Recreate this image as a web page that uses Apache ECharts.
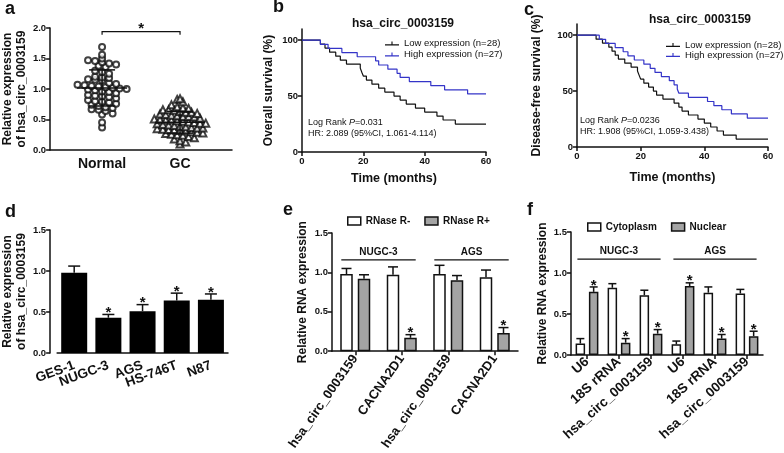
<!DOCTYPE html>
<html>
<head>
<meta charset="utf-8">
<script src="https://cdn.jsdelivr.net/npm/echarts@6/dist/echarts.min.js"></script>
<style>
  html, body { margin: 0; padding: 0; background: #fff; }
  #fig { width: 784px; height: 453px; }
</style>
</head>
<body>
<div id="fig"></div>
<script>
// ---- panel a : scatter ----
const groupsA = ['Normal', 'GC'];
const groupCenters = [1, 2.5];
const normalVals = [1.69, 1.56, 1.50, 1.47, 1.46, 1.44, 1.42, 1.40, 1.38, 1.36, 1.30, 1.28, 1.25, 1.20, 1.19,
  1.18, 1.16, 1.15, 1.14, 1.10, 1.08, 1.07, 1.06, 1.05, 1.04, 1.03, 1.02, 1.01, 1.00, 0.99, 0.98, 0.96,
  0.95, 0.93, 0.90, 0.89, 0.88, 0.87, 0.85, 0.82, 0.80, 0.79, 0.78, 0.76, 0.74, 0.72, 0.70, 0.69, 0.67,
  0.66, 0.64, 0.60, 0.58, 0.45, 0.37];
const gcVals = [0.84, 0.83, 0.79, 0.74, 0.71, 0.69, 0.68, 0.66, 0.66, 0.65, 0.63, 0.62, 0.62, 0.60, 0.59,
  0.58, 0.57, 0.56, 0.55, 0.55, 0.54, 0.52, 0.51, 0.50, 0.49, 0.49, 0.48, 0.47, 0.46, 0.45, 0.44, 0.44,
  0.43, 0.42, 0.41, 0.40, 0.39, 0.38, 0.37, 0.36, 0.36, 0.35, 0.34, 0.33, 0.33, 0.32, 0.31, 0.30, 0.29,
  0.28, 0.27, 0.26, 0.25, 0.24, 0.22, 0.20, 0.18, 0.15, 0.13, 0.10];

// ---- panels b / c : Kaplan-Meier ----
const survNames = ['Low expression (n=28)', 'High expression (n=27)'];
const survTicks = [0, 50, 100];
const osLow = [[0,100],[6,96.4],[7.5,92.9],[9,89.3],[11,85.7],[12.5,82.1],[14.5,78.6],[19,75],[19.5,71.4],
  [20,67.9],[21,64.3],[22.8,60.7],[25,57.1],[27,53.6],[30,50],[32,46.4],[34,42.9],[37,39.3],[40,35.7],
  [44,32.1],[46,28.6],[50,25],[60,25]];
const osHigh = [[0,100],[6,96.3],[8.5,92.6],[13,88.9],[18,85.2],[24,81.5],[25,77.8],[28,74.1],[31,70.4],
  [32,66.7],[35,63],[42,59.3],[46.5,55.6],[54,51.9],[60,51.9]];
const dfsLow = [[0,100],[6,96.4],[8,92.9],[10,89.3],[11,85.7],[12,82.1],[13,78.6],[15,75],[17,71.4],
  [19,67.9],[19.5,64.3],[20,60.7],[21,57.1],[22.5,53.6],[24,50],[25,46.4],[27,42.9],[30.5,39.3],[32,35.7],
  [33,32.1],[35,28.6],[38,25],[40,21.4],[42,17.9],[44,14.3],[46,10.7],[50,7.1],[60,7.1]];
const dfsHigh = [[0,100],[7,96.3],[9,92.6],[12,88.9],[14.5,85.2],[16,81.5],[18,77.8],[21,74.1],[23,70.4],
  [24.5,66.7],[26.5,63],[29,59.3],[30.5,55.6],[31.5,51.9],[32,48.1],[35,44.4],[41,40.7],[43,37],
  [45.5,33.3],[48.5,29.6],[53.5,25.9],[60,25.9]];

// ---- panel d : cell lines ----
const cellLines = ['GES-1', 'NUGC-3', 'AGS', 'HS-746T', 'N87'];
const cellMean = [0.98, 0.43, 0.51, 0.64, 0.65];
const cellSd = [0.08, 0.04, 0.08, 0.09, 0.07];
const cellStar = [0, 1, 1, 1, 1];

// ---- panel e : RNase R ----
const rnaseCats = ['hsa_circ_0003159', 'CACNA2D1', 'hsa_circ_0003159', 'CACNA2D1'];
const rnaseNames = ['RNase R-', 'RNase R+'];
const rnaseMinus = [0.98, 0.97, 0.98, 0.94];
const rnaseMinusSd = [0.07, 0.10, 0.11, 0.09];
const rnasePlus = [0.92, 0.17, 0.90, 0.23];
const rnasePlusSd = [0.05, 0.04, 0.06, 0.07];
const rnasePlusStar = [0, 1, 0, 1];

// ---- panel f : fractionation ----
const fracCats = ['U6', '18S rRNA', 'hsa_circ_0003159', 'U6', '18S rRNA', 'hsa_circ_0003159'];
const fracNames = ['Cytoplasm', 'Nuclear'];
const cyto = [0.14, 0.82, 0.73, 0.13, 0.76, 0.75];
const cytoSd = [0.06, 0.05, 0.06, 0.04, 0.07, 0.05];
const nuc = [0.77, 0.15, 0.26, 0.84, 0.20, 0.23];
const nucSd = [0.06, 0.05, 0.05, 0.04, 0.05, 0.06];
const nucStar = [1, 1, 1, 1, 1, 1];

const cellGroups = ['NUGC-3', 'AGS'];

const FONT = 'Liberation Sans, Arial, sans-serif';
const INK = '#111';
const BLUE = '#3434c8';
const GREY = '#a4a4a4';

const chart = echarts.init(document.getElementById('fig'), null, { renderer: 'canvas' });

// beeswarm-like spreading of points sharing a row (deterministic)
function swarm(vals, center, bin, step) {
  const rows = {};
  vals.forEach(v => {
    const k = Math.round(v / bin);
    (rows[k] = rows[k] || []).push(v);
  });
  const out = [];
  Object.keys(rows).forEach(k => {
    const r = rows[k];
    r.forEach((v, j) => out.push([center + (j - (r.length - 1) / 2) * step, v]));
  });
  return out;
}

function meanSd(vals) {
  const m = vals.reduce((s, v) => s + v, 0) / vals.length;
  const sd = Math.sqrt(vals.reduce((s, v) => s + (v - m) * (v - m), 0) / (vals.length - 1));
  return [m, sd];
}

const lineStyle = { stroke: INK, lineWidth: 1.5 };

function valueAxis(grid, extra) {
  return Object.assign({
    type: 'value', gridIndex: grid,
    axisLine: { show: true, lineStyle: { color: INK, width: 1.5 } },
    axisTick: { show: true, length: 4, lineStyle: { color: INK, width: 1.5 } },
    axisLabel: { fontFamily: FONT, fontWeight: 'bold', fontSize: 9.5, color: INK, margin: 4 },
    splitLine: { show: false },
    nameLocation: 'middle',
    nameTextStyle: { fontFamily: FONT, fontWeight: 'bold', fontSize: 12, color: INK, lineHeight: 14 }
  }, extra);
}

function catAxis(grid, data, extra) {
  return Object.assign({
    type: 'category', gridIndex: grid, data: data,
    axisLine: { show: true, lineStyle: { color: INK, width: 1.5 } },
    axisTick: { show: true, alignWithLabel: true, length: 4, lineStyle: { color: INK, width: 1.5 } },
    axisLabel: { fontFamily: FONT, fontWeight: 'bold', fontSize: 12.5, color: INK, interval: 0 }
  }, extra);
}

// one-sided error bars (+SD) with optional star
function errorBarSeries(grid, means, sds, stars, offset, cap) {
  return {
    type: 'custom', xAxisIndex: grid, yAxisIndex: grid, z: 5,
    data: means.map((m, i) => [i, m, sds[i], stars ? stars[i] : 0]),
    renderItem: function (params, api) {
      const base = api.coord([api.value(0), api.value(1)]);
      const top = api.coord([api.value(0), api.value(1) + api.value(2)]);
      const cx = base[0] + offset;
      const children = [
        { type: 'line', shape: { x1: cx, y1: base[1], x2: cx, y2: top[1] }, style: lineStyle },
        { type: 'line', shape: { x1: cx - cap, y1: top[1], x2: cx + cap, y2: top[1] }, style: lineStyle }
      ];
      if (api.value(3)) {
        children.push({ type: 'text', x: cx, y: top[1] + 6,
          style: { text: '*', font: 'bold 15px ' + FONT, fill: INK, align: 'center', verticalAlign: 'bottom' } });
      }
      return { type: 'group', children: children };
    }
  };
}

function groupLen(grid) { return grid === 4 ? rnaseCats.length / 2 : fracCats.length / 2; }

// horizontal group line with label (NUGC-3 / AGS)
function groupLineSeries(grid, yVal, spread) {
  const n = groupLen(grid);
  return {
    type: 'custom', xAxisIndex: grid, yAxisIndex: grid,
    data: cellGroups.map((g, i) => [i * n, i * n + n - 1, yVal]),
    renderItem: function (params, api) {
      const band = api.size([1, 0])[0];
      const a = api.coord([api.value(0), api.value(2)]);
      const b = api.coord([api.value(1), api.value(2)]);
      const x1 = a[0] - band * spread, x2 = b[0] + band * spread;
      return { type: 'group', children: [
        { type: 'line', shape: { x1: x1, y1: a[1], x2: x2, y2: a[1] }, style: { stroke: INK, lineWidth: 1.2 } },
        { type: 'text', x: (x1 + x2) / 2, y: a[1] - 3,
          style: { text: cellGroups[params.dataIndex], font: 'bold 10px ' + FONT, fill: INK, align: 'center', verticalAlign: 'bottom' } }
      ] };
    }
  };
}

const statsA = [meanSd(normalVals), meanSd(gcVals)];

const kmLegendIcon = 'path://M0,6 L20,6 L20,7.6 L0,7.6 Z M9.2,2 L10.8,2 L10.8,6.5 L9.2,6.5 Z';
const kmText = { fontFamily: FONT, fontSize: 9.5, color: INK, lineHeight: 11 };
const survY = (grid, name, gap) => valueAxis(grid, {
  min: 0, max: 110, interval: 10, name: name, nameGap: gap,
  axisTick: { show: true, length: 4, customValues: survTicks, lineStyle: { color: INK, width: 1.5 } },
  axisLabel: { fontFamily: FONT, fontWeight: 'bold', fontSize: 9.5, color: INK, margin: 4, customValues: survTicks }
});

const option = {
  animation: false,
  backgroundColor: '#fff',
  textStyle: { fontFamily: FONT },
  grid: [
    { left: 50, top: 28, width: 182, height: 122 },   // a
    { left: 302, top: 29, width: 184, height: 123 },  // b
    { left: 577, top: 24, width: 191, height: 123 },  // c
    { left: 56, top: 230, width: 172, height: 123 },  // d
    { left: 332, top: 233, width: 186, height: 123 }, // e
    { left: 571, top: 232, width: 192, height: 123 }  // f
  ],
  xAxis: [
    valueAxis(0, { min: 0, max: 3.5, interval: 0.5, axisTick: { show: false },
      axisLabel: { fontFamily: FONT, fontWeight: 'bold', fontSize: 14, color: INK, margin: 7,
        formatter: v => { const i = groupCenters.indexOf(v); return i >= 0 ? groupsA[i] : ''; } } }),
    valueAxis(1, { min: 0, max: 60, interval: 20, name: 'Time (months)', nameGap: 20,
      nameTextStyle: { fontFamily: FONT, fontWeight: 'bold', fontSize: 12.5, color: INK } }),
    valueAxis(2, { min: 0, max: 60, interval: 20, name: 'Time (months)', nameGap: 24,
      nameTextStyle: { fontFamily: FONT, fontWeight: 'bold', fontSize: 12.5, color: INK } }),
    catAxis(3, cellLines, { axisTick: { show: false },
      axisLabel: { fontFamily: FONT, fontWeight: 'bold', fontSize: 13.5, color: INK, interval: 0, rotate: 20, margin: 12 } }),
    catAxis(4, rnaseCats, { axisLabel: { fontFamily: FONT, fontWeight: 'bold', fontSize: 13, color: INK, interval: 0, rotate: 55, margin: 5 } }),
    catAxis(5, fracCats, { axisLabel: { fontFamily: FONT, fontWeight: 'bold', fontSize: 13.5, color: INK, interval: 0, rotate: 42, margin: 5 } })
  ],
  yAxis: [
    valueAxis(0, { min: 0, max: 2, interval: 0.5, name: 'Relative expression\nof hsa_circ_0003159', nameGap: 20,
      axisLabel: { fontFamily: FONT, fontWeight: 'bold', fontSize: 9.5, color: INK, margin: 4, formatter: v => v.toFixed(1) } }),
    survY(1, 'Overall survival (%)', 26),
    survY(2, 'Disease-free survival (%)', 33),
    valueAxis(3, { min: 0, max: 1.5, interval: 0.5, offset: 7, name: 'Relative expression\nof hsa_circ_0003159', nameGap: 17,
      axisLabel: { fontFamily: FONT, fontWeight: 'bold', fontSize: 9.5, color: INK, margin: 4, formatter: v => v.toFixed(1) } }),
    valueAxis(4, { min: 0, max: 1.5, interval: 0.5, name: 'Relative RNA expression', nameGap: 22,
      axisLabel: { fontFamily: FONT, fontWeight: 'bold', fontSize: 9.5, color: INK, margin: 4, formatter: v => v.toFixed(1) } }),
    valueAxis(5, { min: 0, max: 1.5, interval: 0.5, name: 'Relative RNA expression', nameGap: 16,
      axisLabel: { fontFamily: FONT, fontWeight: 'bold', fontSize: 9.5, color: INK, margin: 4, formatter: v => v.toFixed(1) } })
  ],
  legend: [
    { data: survNames, left: 380, top: 33, orient: 'vertical', itemGap: 0, itemWidth: 14, itemHeight: 6,
      icon: kmLegendIcon, textStyle: kmText },
    { data: survNames, left: 661, top: 35, orient: 'vertical', itemGap: 0, itemWidth: 14, itemHeight: 6,
      icon: kmLegendIcon, textStyle: Object.assign({}, kmText, { lineHeight: 10 }) },
    { data: rnaseNames, left: 342, top: 211, itemGap: 14, itemWidth: 13, itemHeight: 8, icon: 'rect',
      itemStyle: { borderColor: INK, borderWidth: 1.5 },
      textStyle: { fontFamily: FONT, fontWeight: 'bold', fontSize: 10, color: INK } },
    { data: fracNames, left: 582, top: 217, itemGap: 14, itemWidth: 13, itemHeight: 8, icon: 'rect',
      itemStyle: { borderColor: INK, borderWidth: 1.5 },
      textStyle: { fontFamily: FONT, fontWeight: 'bold', fontSize: 10, color: INK } }
  ],
  graphic: [
    { type: 'text', left: 5, top: 0, style: { text: 'a', font: 'bold 18px ' + FONT, fill: INK } },
    { type: 'text', left: 273, top: -2, style: { text: 'b', font: 'bold 18px ' + FONT, fill: INK } },
    { type: 'text', left: 524, top: 1, style: { text: 'c', font: 'bold 18px ' + FONT, fill: INK } },
    { type: 'text', left: 5, top: 203, style: { text: 'd', font: 'bold 18px ' + FONT, fill: INK } },
    { type: 'text', left: 283, top: 201, style: { text: 'e', font: 'bold 18px ' + FONT, fill: INK } },
    { type: 'text', left: 527, top: 201, style: { text: 'f', font: 'bold 18px ' + FONT, fill: INK } },
    { type: 'text', x: 403, y: 24, style: { text: 'hsa_circ_0003159', font: 'bold 12px ' + FONT, fill: INK, align: 'center', verticalAlign: 'middle' } },
    { type: 'text', x: 700, y: 20, style: { text: 'hsa_circ_0003159', font: 'bold 12px ' + FONT, fill: INK, align: 'center', verticalAlign: 'middle' } },
    { type: 'text', x: 308, y: 128, style: { text: '{n|Log Rank }{i|P}{n|=0.031}\n{n|HR: 2.089 (95%CI, 1.061-4.114)}',
      fill: INK, verticalAlign: 'middle', lineHeight: 11,
      rich: { n: { fontFamily: FONT, fontSize: 9, fill: INK, lineHeight: 11 }, i: { fontFamily: FONT, fontSize: 9, fontStyle: 'italic', fill: INK, lineHeight: 11 } } } },
    { type: 'text', x: 580, y: 126, style: { text: '{n|Log Rank }{i|P}{n|=0.0236}\n{n|HR: 1.908 (95%CI, 1.059-3.438)}',
      fill: INK, verticalAlign: 'middle', lineHeight: 11,
      rich: { n: { fontFamily: FONT, fontSize: 9, fill: INK, lineHeight: 11 }, i: { fontFamily: FONT, fontSize: 9, fontStyle: 'italic', fill: INK, lineHeight: 11 } } } }
  ],
  series: [
    // a
    { type: 'scatter', xAxisIndex: 0, yAxisIndex: 0, symbol: 'emptyCircle', symbolSize: 6,
      itemStyle: { color: INK, borderWidth: 1 }, data: swarm(normalVals, groupCenters[0], 0.08, 0.135) },
    { type: 'scatter', xAxisIndex: 0, yAxisIndex: 0, symbol: 'emptyTriangle', symbolSize: 7,
      itemStyle: { color: INK, borderWidth: 1 }, data: swarm(gcVals, groupCenters[1], 0.08, 0.11) },
    { type: 'custom', xAxisIndex: 0, yAxisIndex: 0, z: 5,
      data: statsA.map((s, i) => [groupCenters[i], s[0], s[1]]),
      renderItem: function (params, api) {
        const c = api.coord([api.value(0), api.value(1)]);
        const hi = api.coord([api.value(0), api.value(1) + api.value(2)]);
        const lo = api.coord([api.value(0), api.value(1) - api.value(2)]);
        return { type: 'group', children: [
          { type: 'line', shape: { x1: c[0] - 25, y1: c[1], x2: c[0] + 25, y2: c[1] }, style: lineStyle },
          { type: 'line', shape: { x1: c[0], y1: hi[1], x2: c[0], y2: lo[1] }, style: lineStyle },
          { type: 'line', shape: { x1: c[0] - 13, y1: hi[1], x2: c[0] + 13, y2: hi[1] }, style: lineStyle },
          { type: 'line', shape: { x1: c[0] - 13, y1: lo[1], x2: c[0] + 13, y2: lo[1] }, style: lineStyle }
        ] };
      } },
    { type: 'custom', xAxisIndex: 0, yAxisIndex: 0,
      data: [[groupCenters[0], groupCenters[1], 1.94]],
      renderItem: function (params, api) {
        const p1 = api.coord([api.value(0), api.value(2)]);
        const p2 = api.coord([api.value(1), api.value(2)]);
        return { type: 'group', children: [
          { type: 'polyline', shape: { points: [[p1[0], p1[1] + 3], p1, p2, [p2[0], p2[1] + 3]] },
            style: { stroke: INK, lineWidth: 1.2, fill: null } },
          { type: 'text', x: (p1[0] + p2[0]) / 2, y: p1[1] + 5,
            style: { text: '*', font: 'bold 15px ' + FONT, fill: INK, align: 'center', verticalAlign: 'bottom' } }
        ] };
      } },
    // b
    { name: survNames[0], type: 'line', step: 'end', xAxisIndex: 1, yAxisIndex: 1, symbol: 'none',
      color: INK, lineStyle: { color: INK, width: 1.2 }, data: osLow },
    { name: survNames[1], type: 'line', step: 'end', xAxisIndex: 1, yAxisIndex: 1, symbol: 'none',
      color: BLUE, lineStyle: { color: BLUE, width: 1.2 }, data: osHigh },
    // c
    { name: survNames[0], type: 'line', step: 'end', xAxisIndex: 2, yAxisIndex: 2, symbol: 'none',
      color: INK, lineStyle: { color: INK, width: 1.2 }, data: dfsLow },
    { name: survNames[1], type: 'line', step: 'end', xAxisIndex: 2, yAxisIndex: 2, symbol: 'none',
      color: BLUE, lineStyle: { color: BLUE, width: 1.2 }, data: dfsHigh },
    // d
    { type: 'bar', xAxisIndex: 3, yAxisIndex: 3, barWidth: 26, data: cellMean,
      itemStyle: { color: '#000' } },
    errorBarSeries(3, cellMean, cellSd, cellStar, 0, 6),
    // e
    { name: rnaseNames[0], type: 'bar', xAxisIndex: 4, yAxisIndex: 4, barWidth: 12.5, barGap: '40%', data: rnaseMinus,
      itemStyle: { color: '#fff', borderColor: INK, borderWidth: 1.5 } },
    { name: rnaseNames[1], type: 'bar', xAxisIndex: 4, yAxisIndex: 4, barWidth: 12.5, barGap: '40%', data: rnasePlus,
      itemStyle: { color: GREY, borderColor: INK, borderWidth: 1.5 } },
    errorBarSeries(4, rnaseMinus, rnaseMinusSd, null, -8.75, 5),
    errorBarSeries(4, rnasePlus, rnasePlusSd, rnasePlusStar, 8.75, 5),
    groupLineSeries(4, 1.16, 0.3),
    // f
    { name: fracNames[0], type: 'bar', xAxisIndex: 5, yAxisIndex: 5, barWidth: 9.5, barGap: '40%', data: cyto,
      itemStyle: { color: '#fff', borderColor: INK, borderWidth: 1.5 } },
    { name: fracNames[1], type: 'bar', xAxisIndex: 5, yAxisIndex: 5, barWidth: 9.5, barGap: '40%', data: nuc,
      itemStyle: { color: GREY, borderColor: INK, borderWidth: 1.5 } },
    errorBarSeries(5, cyto, cytoSd, null, -6.65, 4),
    errorBarSeries(5, nuc, nucSd, nucStar, 6.65, 4),
    groupLineSeries(5, 1.17, 0.3)
  ]
};

chart.setOption(option);
window.addEventListener('resize', () => chart.resize());
</script>
</body>
</html>
